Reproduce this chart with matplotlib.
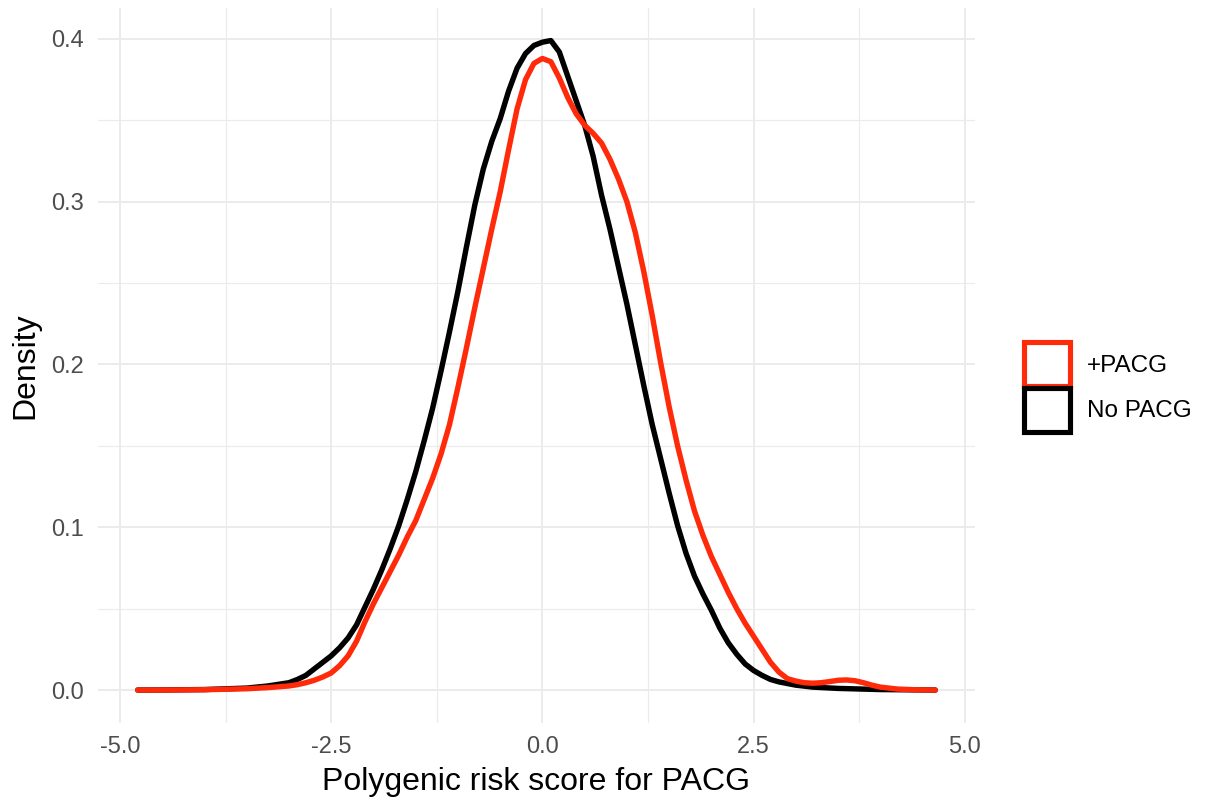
import numpy as np
import matplotlib
matplotlib.use("Agg")
import matplotlib.pyplot as plt
from matplotlib.patches import Patch
from matplotlib.ticker import MultipleLocator

plt.rcParams['font.family'] = ['Liberation Sans', 'DejaVu Sans']

# density curves
x_nopacg = [-4.79, -4.5, -4.0, -3.5, -3.25, -3.0, -2.9, -2.8, -2.7, -2.6, -2.5, -2.4, -2.3,
            -2.2, -2.1, -2.0, -1.9, -1.8, -1.7, -1.6, -1.5, -1.4, -1.3, -1.2, -1.1, -1.0,
            -0.9, -0.8, -0.7, -0.6, -0.5, -0.4, -0.3, -0.2, -0.1, 0.0, 0.1, 0.2, 0.3, 0.4,
            0.5, 0.6, 0.7, 0.8, 0.9, 1.0, 1.1, 1.2, 1.3, 1.4, 1.5, 1.6, 1.7, 1.8, 1.9, 2.0,
            2.1, 2.2, 2.3, 2.4, 2.5, 2.6, 2.7, 2.8, 3.0, 3.2, 3.5, 4.0, 4.65]
y_nopacg = [0.0, 0.00005, 0.0003, 0.0012, 0.0025, 0.0045, 0.0065, 0.009, 0.013, 0.017, 0.021,
            0.026, 0.032, 0.040, 0.051, 0.062, 0.074, 0.087, 0.101, 0.117, 0.134, 0.153,
            0.173, 0.196, 0.220, 0.245, 0.272, 0.298, 0.320, 0.337, 0.351, 0.368, 0.382,
            0.391, 0.396, 0.398, 0.399, 0.392, 0.377, 0.362, 0.347, 0.328, 0.304, 0.283,
            0.260, 0.237, 0.212, 0.187, 0.163, 0.142, 0.121, 0.101, 0.084, 0.070, 0.059,
            0.049, 0.038, 0.029, 0.022, 0.016, 0.012, 0.009, 0.0065, 0.005, 0.003, 0.0018,
            0.001, 0.0003, 0.0]

x_pacg = [-4.79, -4.5, -4.0, -3.5, -3.25, -3.0, -2.9, -2.8, -2.7, -2.6, -2.5, -2.4, -2.3,
          -2.2, -2.1, -2.0, -1.9, -1.8, -1.7, -1.6, -1.5, -1.4, -1.3, -1.2, -1.1, -1.0,
          -0.9, -0.8, -0.7, -0.6, -0.5, -0.4, -0.3, -0.2, -0.1, 0.0, 0.1, 0.2, 0.3, 0.4,
          0.5, 0.6, 0.7, 0.8, 0.9, 1.0, 1.1, 1.2, 1.3, 1.4, 1.5, 1.6, 1.7, 1.8, 1.9, 2.0,
          2.1, 2.2, 2.3, 2.4, 2.5, 2.6, 2.7, 2.8, 2.9, 3.0, 3.1, 3.2, 3.3, 3.4, 3.5, 3.6,
          3.7, 3.8, 3.9, 4.0, 4.2, 4.4, 4.65]
y_pacg = [0.0, 0.0, 0.0002, 0.0008, 0.0015, 0.0025, 0.0033, 0.0045, 0.006, 0.008, 0.0105,
          0.015, 0.021, 0.030, 0.042, 0.053, 0.063, 0.073, 0.083, 0.094, 0.104, 0.117,
          0.130, 0.145, 0.163, 0.186, 0.210, 0.235, 0.259, 0.283, 0.306, 0.332, 0.357,
          0.375, 0.385, 0.388, 0.386, 0.376, 0.364, 0.354, 0.347, 0.342, 0.336, 0.326,
          0.314, 0.300, 0.281, 0.257, 0.230, 0.201, 0.174, 0.150, 0.129, 0.110, 0.095,
          0.082, 0.071, 0.060, 0.050, 0.041, 0.033, 0.025, 0.017, 0.011, 0.007, 0.0055,
          0.0045, 0.0042, 0.0045, 0.0052, 0.006, 0.0062, 0.0057, 0.0045, 0.003, 0.0018,
          0.0006, 0.0002, 0.0]

labels = ['+PACG', 'No PACG']
colors = ['#FF2A0A', '#000000']

fig = plt.figure(figsize=(12.12, 8.01), dpi=100)
ax = fig.add_axes([98/1212, 78.4/801, (975-98)/1212, (722.6-8)/801])

ax.plot(x_nopacg, y_nopacg, color=colors[1], lw=3.9, solid_capstyle='round',
        solid_joinstyle='round', zorder=3)
ax.plot(x_pacg, y_pacg, color=colors[0], lw=3.9, solid_capstyle='round',
        solid_joinstyle='round', zorder=4)

ax.set_xlim(-5.26, 5.12)
ax.set_ylim(-0.02, 0.419)
ax.xaxis.set_major_locator(MultipleLocator(2.5))
ax.xaxis.set_minor_locator(MultipleLocator(1.25))
ax.yaxis.set_major_locator(MultipleLocator(0.1))
ax.yaxis.set_minor_locator(MultipleLocator(0.05))
ax.xaxis.set_major_formatter(plt.FuncFormatter(lambda v, p: f'{v:.1f}'))
ax.yaxis.set_major_formatter(plt.FuncFormatter(lambda v, p: f'{v:.1f}'))

ax.grid(which='major', color='#EBEBEB', lw=1.4)
ax.grid(which='minor', color='#EBEBEB', lw=0.8)
ax.set_axisbelow(True)
for s in ax.spines.values():
    s.set_visible(False)
ax.tick_params(which='both', length=0)
ax.tick_params(which='major', labelsize=17, labelcolor='#4D4D4D', pad=10)

ax.set_xlabel('Polygenic risk score for PACG', fontsize=23, labelpad=6)
ax.set_ylabel('Density', fontsize=23, labelpad=8)

handles = [Patch(facecolor='white', edgecolor=c, lw=3.7) for c in colors]
fig.legend(handles, labels, loc='center left', bbox_to_anchor=(1023.5/1212, 1-387/801),
           frameon=False, fontsize=17.5, handlelength=1.9, handleheight=2.4,
           handletextpad=0.7, labelspacing=0.08, borderpad=0, borderaxespad=0)

fig.savefig('out.png', dpi=100)
